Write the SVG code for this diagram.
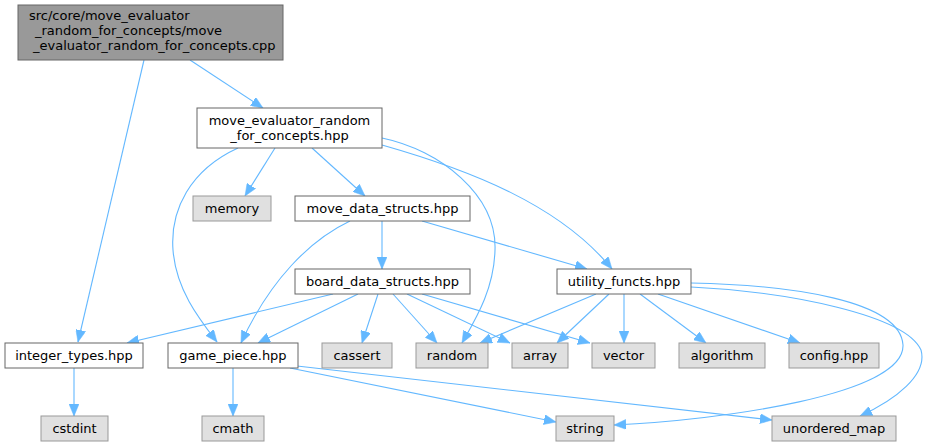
<svg xmlns="http://www.w3.org/2000/svg" width="928" height="447" viewBox="0 0 928 447">
<style>
text{font-family:"DejaVu Sans","Liberation Sans",sans-serif;font-size:13px;fill:#000}
.c{text-anchor:middle}
.main{fill:#999999;stroke:#666666;stroke-width:1}
.doc{fill:#ffffff;stroke:#666666;stroke-width:1}
.ext{fill:#e0e0e0;stroke:#999999;stroke-width:1}
.e{fill:none;stroke:#63b8ff;stroke-width:1.1;marker-end:url(#ah)}
</style>
<defs>
<marker id="ah" viewBox="0 0 12 10" refX="12" refY="5" markerWidth="12" markerHeight="10" markerUnits="userSpaceOnUse" orient="auto">
<path d="M0,0 L12,5 L0,10 z" fill="#63b8ff" stroke="#63b8ff" stroke-width="0.5"/>
</marker>
</defs>
<rect width="928" height="447" fill="#ffffff"/>
<g id="edges">
<path class="e" d="M190,60 L263,108"/>
<path class="e" d="M144,60 L78,342"/>
<path class="e" d="M238,148 C190,170 170,210 173,250 C176,290 200,320 217,342"/>
<path class="e" d="M275,148 L245,196"/>
<path class="e" d="M312,148 L365,196"/>
<path class="e" d="M382,138 C440,150 497,195 495,250 C494,290 475,320 462,343"/>
<path class="e" d="M382,145 C470,170 560,205 612,269"/>
<path class="e" d="M350,221 C310,240 270,280 241,343"/>
<path class="e" d="M382,221 L382,269"/>
<path class="e" d="M422,221 L587,269"/>
<path class="e" d="M333,294 L127,343"/>
<path class="e" d="M358,294 L258,343"/>
<path class="e" d="M378,294 L362,343"/>
<path class="e" d="M393,294 L437,343"/>
<path class="e" d="M407,294 L510,343"/>
<path class="e" d="M422,294 L590,343"/>
<path class="e" d="M596,294 L480,343"/>
<path class="e" d="M609,294 L557,343"/>
<path class="e" d="M624,294 L624,343"/>
<path class="e" d="M640,294 L706,343"/>
<path class="e" d="M658,294 L800,343"/>
<path class="e" d="M691,283 C790,285 900,300 903,345 C905,395 720,420 614,425"/>
<path class="e" d="M691,287 C790,292 905,315 921,350 C928,375 895,400 860,416"/>
<path class="e" d="M290,368 L556,422"/>
<path class="e" d="M297,366 L772,420"/>
<path class="e" d="M74,368 L74,416"/>
<path class="e" d="M233,368 L233,416"/>
</g>
<g id="n_cpp">
<rect class="main" x="18" y="5" width="265" height="55"/>
<text x="29" y="20">src/core/move_evaluator</text>
<text x="35" y="35">_random_for_concepts/move</text>
<text x="33" y="50">_evaluator_random_for_concepts.cpp</text>
</g>
<g id="n_mevh">
<rect class="doc" x="197" y="108" width="185" height="40"/>
<text class="c" x="289.5" y="124.5">move_evaluator_random</text>
<text class="c" x="289.5" y="139.5">_for_concepts.hpp</text>
</g>
<g id="n_memory">
<rect class="ext" x="193" y="196" width="78" height="25"/>
<text class="c" x="232" y="213">memory</text>
</g>
<g id="n_mds">
<rect class="doc" x="295" y="196" width="175" height="25"/>
<text class="c" x="382.5" y="213">move_data_structs.hpp</text>
</g>
<g id="n_bds">
<rect class="doc" x="295" y="269" width="175" height="25"/>
<text class="c" x="382.5" y="286">board_data_structs.hpp</text>
</g>
<g id="n_util">
<rect class="doc" x="557" y="269" width="134" height="25"/>
<text class="c" x="624" y="286">utility_functs.hpp</text>
</g>
<g id="n_int">
<rect class="doc" x="5" y="343" width="138" height="25"/>
<text class="c" x="74" y="360">integer_types.hpp</text>
</g>
<g id="n_gp">
<rect class="doc" x="168" y="343" width="130" height="25"/>
<text class="c" x="233" y="360">game_piece.hpp</text>
</g>
<g id="n_cassert">
<rect class="ext" x="322" y="343" width="70" height="25"/>
<text class="c" x="357" y="360">cassert</text>
</g>
<g id="n_random">
<rect class="ext" x="416" y="343" width="72" height="25"/>
<text class="c" x="452" y="360">random</text>
</g>
<g id="n_array">
<rect class="ext" x="512" y="343" width="56" height="25"/>
<text class="c" x="540" y="360">array</text>
</g>
<g id="n_vector">
<rect class="ext" x="592" y="343" width="63" height="25"/>
<text class="c" x="623.5" y="360">vector</text>
</g>
<g id="n_algorithm">
<rect class="ext" x="679" y="343" width="86" height="25"/>
<text class="c" x="722" y="360">algorithm</text>
</g>
<g id="n_config">
<rect class="ext" x="789" y="343" width="90" height="25"/>
<text class="c" x="834" y="360">config.hpp</text>
</g>
<g id="n_cstdint">
<rect class="ext" x="41" y="416" width="67" height="25"/>
<text class="c" x="74.5" y="433">cstdint</text>
</g>
<g id="n_cmath">
<rect class="ext" x="202" y="416" width="62" height="25"/>
<text class="c" x="233" y="433">cmath</text>
</g>
<g id="n_string">
<rect class="ext" x="556" y="416" width="58" height="25"/>
<text class="c" x="585" y="433">string</text>
</g>
<g id="n_umap">
<rect class="ext" x="772" y="416" width="124" height="25"/>
<text class="c" x="834" y="433">unordered_map</text>
</g>
</svg>
